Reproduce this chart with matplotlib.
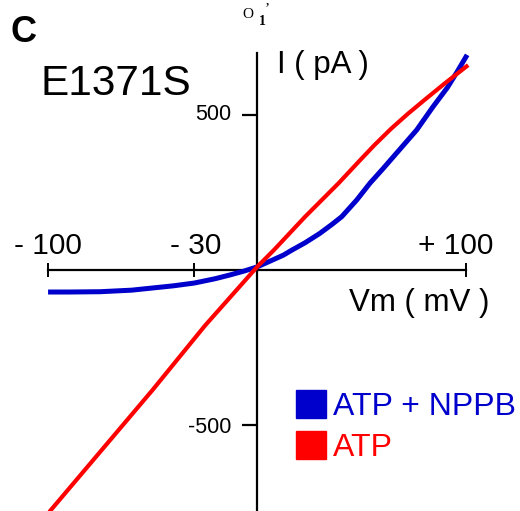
import matplotlib
matplotlib.use('Agg')
import matplotlib.pyplot as plt
from matplotlib.patches import Patch

plt.rcParams['font.family'] = ['Liberation Sans', 'DejaVu Sans']

# I-V curves (mV, pA)
v_atp = [-100, -75, -50, -25, 0, 8, 23, 39, 48, 56, 64, 72, 80, 90, 101]
i_atp = [-785, -586, -387, -180, 10, 64, 172, 280, 345, 402, 455, 503, 548, 603, 661]

v_nppb = [-100, -90, -75, -60, -50, -40, -30, -20, -13, -6, 0, 6, 12.6, 16.6, 23,
          30, 36, 40.5, 47.7, 54, 60.4, 68.4, 76.4, 84, 91, 95.7, 100.5]
i_nppb = [-71, -71, -70, -65, -58, -51, -42, -28, -16, -3, 10, 28, 48, 64, 88,
          118, 148, 172, 226, 280, 328, 390, 452, 525, 588, 639, 694]

xticks = [-100, -30, 100]
xtick_labels = ['- 100', '- 30', '+ 100']
yticks = [500, -500]
ytick_labels = ['500', '-500']

blue = '#0000cc'
red = '#ff0000'

W, H = 520, 511
fig = plt.figure(figsize=(W / 100, H / 100), dpi=100)
ax = fig.add_axes([0, 0, 1, 1])
ax.set_xlim(-123, 125.8)
ax.set_ylim(-777.4, 871)

ax.plot(v_nppb, i_nppb, color=blue, lw=3.6, solid_capstyle='butt', zorder=3)
ax.plot(v_atp, i_atp, color=red, lw=3.0, solid_capstyle='butt', zorder=4)

# axes through the origin
for s in ['top', 'right']:
    ax.spines[s].set_visible(False)
ax.spines['left'].set_position(('data', 0))
ax.spines['bottom'].set_position(('data', 0))
ax.spines['left'].set_bounds(-777.4, 700)
ax.spines['bottom'].set_bounds(-100, 100)
ax.spines['left'].set_linewidth(1.6)
ax.spines['bottom'].set_linewidth(1.6)
ax.set_xticks(xticks)
ax.set_xticklabels([])
ax.set_yticks(yticks)
ax.set_yticklabels([])
ax.tick_params(axis='x', direction='inout', length=9.5, width=1.4)
ax.tick_params(axis='y', direction='out', length=11, width=1.6)


def px(x, y):
    return x / W, 1 - y / H


# tick labels
for x, lab in zip([48, 196, 456], xtick_labels):
    fig.text(*px(x, 254), lab, fontsize=21.5, ha='center', va='baseline')
for y, lab in zip([114, 427], ytick_labels):
    fig.text(*px(231, y), lab, fontsize=15.5, ha='right', va='center')

fig.text(*px(11, 42), 'C', fontsize=26, fontweight='bold', ha='left', va='baseline')
fig.text(*px(41, 95), 'E1371S', fontsize=30.5, ha='left', va='baseline')
fig.text(*px(277, 73), 'I ( pA )', fontsize=22.5, ha='left', va='baseline')
fig.text(*px(349, 311), 'Vm ( mV )', fontsize=22.5, ha='left', va='baseline')

# stray glyphs at the top
fig.text(*px(242, 18), 'O', fontsize=11, family='Liberation Serif', va='baseline')
fig.text(*px(259, 25), '1', fontsize=10, family='Liberation Serif',
         fontweight='bold', va='baseline')
fig.text(*px(265, 12), '\u2019', fontsize=11, family='Liberation Serif', va='baseline')

handles = [Patch(facecolor=blue, edgecolor=blue), Patch(facecolor=red, edgecolor=red)]
fig.legend(handles, ['ATP + NPPB', 'ATP'], loc='upper left',
           bbox_to_anchor=px(296, 390), frameon=False, fontsize=23,
           handlelength=0.95, handleheight=0.95, handletextpad=0.2,
           labelspacing=0.3, borderpad=0, borderaxespad=0,
           labelcolor=[blue, red])

fig.savefig('out.png', dpi=100)
